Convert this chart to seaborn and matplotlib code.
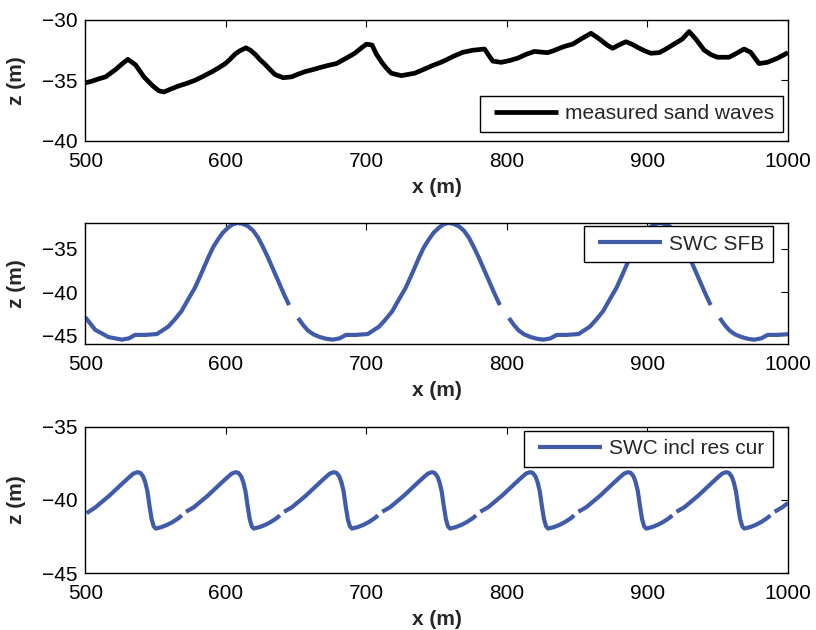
import numpy as np
import pandas as pd
import matplotlib
matplotlib.use("Agg")
import matplotlib.pyplot as plt
import seaborn as sns
from matplotlib.lines import Line2D
from matplotlib.legend_handler import HandlerLine2D

nan = np.nan

# ---------------------------------------------------------------- data
# measured bed profile
measured_x = [500, 505, 510, 514.5, 521.5, 526, 530.3, 535.7, 541.7, 547.6, 552.3, 556,
              561, 566.5, 572, 578.4, 584, 590.2, 595, 599.7, 603, 606.8, 610, 614.3,
              617.5, 621, 624.5, 627.8, 631.5, 634.9, 640.8, 646.8, 651, 656.3, 662,
              668.1, 673, 678.8, 685, 691.8, 696, 700.1, 704.1, 707, 710.7, 714, 717.8,
              724.9, 734.4, 741.5, 747.4, 752, 756.9, 762, 768.7, 775.8, 780, 784.1, 787,
              790, 796, 802, 807.8, 813.7, 819.6, 824, 829, 833, 837.4, 842, 846.8, 852.8,
              859.9, 865.8, 871.7, 875.2, 880, 884.7, 889, 893, 898, 902.5, 908.4, 912.5,
              916.7, 921, 924.9, 929.7, 934.4, 940.3, 945, 949.8, 958.1, 963.5, 968.8,
              973.5, 979.4, 985.3, 992.4, 1000]
measured_z = [-35.2, -35.05, -34.85, -34.7, -34.1, -33.65, -33.25, -33.7, -34.7, -35.4, -35.85, -35.95,
              -35.7, -35.45, -35.25, -34.97, -34.65, -34.27, -33.95, -33.6, -33.25, -32.8, -32.55, -32.3,
              -32.5, -32.85, -33.3, -33.65, -34.1, -34.5, -34.77, -34.7, -34.5, -34.27, -34.1,
              -33.9, -33.75, -33.6, -33.2, -32.75, -32.35, -32.0, -32.07, -32.8, -33.45, -33.95, -34.4,
              -34.6, -34.4, -34.05, -33.75, -33.55, -33.3, -33.0, -32.67, -32.5, -32.45, -32.4, -32.9,
              -33.4, -33.5, -33.35, -33.15, -32.84, -32.6, -32.65, -32.7, -32.55, -32.34, -32.15, -32.0, -31.57,
              -31.1, -31.57, -32.1, -32.34, -32.05, -31.8, -32.0, -32.26, -32.55, -32.75, -32.7, -32.45,
              -32.15, -31.85, -31.57, -30.96, -31.57, -32.48, -32.85, -33.08, -33.08, -32.75, -32.4,
              -32.67, -33.6, -33.5, -33.17, -32.7]

# SWC SFB (NaN marks a break in the curve)
sfb_x = [500, 507, 516.5,
         526, 531, 535.5, 542.5, 551, 559, 563.5, 568.5, 573, 578, 583, 587.5, 591, 594.5,
         598, 602, 605, 608.5, 612, 616, 619.5, 623, 626.5, 630, 633.5, 637, 641, 645, 648,
         651.5, 655, 658.5, 662.5, 667, 671.5,
         676, 681, 685.5, 692.5, 701, 709, 713.5, 718.5, 723, 728, 733, 737.5, 741, 744.5,
         748, 752, 755, 758.5, 762, 766, 769.5, 773, 776.5, 780, 783.5, 787, 791, 795, 798,
         801.5, 805, 808.5, 812.5, 817, 821.5,
         826, 831, 835.5, 842.5, 851, 859, 863.5, 868.5, 873, 878, 883, 887.5, 891, 894.5,
         898, 902, 905, 908.5, 912, 916, 919.5, 923, 926.5, 930, 933.5, 937, 941, 945, 948,
         951.5, 955, 958.5, 962.5, 967, 971.5,
         976, 981, 985.5, 992.5, 1000]
sfb_z = [-42.9, -44.35, -45.2,
         -45.5, -45.35, -44.95, -44.95, -44.85, -44.0, -43.2, -42.2, -40.9, -39.5, -37.7, -36.0, -34.8, -33.9,
         -33.1, -32.5, -32.15, -32.0, -32.1, -32.4, -32.9, -33.7, -34.8, -36.0, -37.3, -38.6, -40.1, -41.5, nan,
         -43.0, -43.8, -44.45, -44.9, -45.2, -45.4,
         -45.5, -45.35, -44.95, -44.95, -44.85, -44.0, -43.2, -42.2, -40.9, -39.5, -37.7, -36.0, -34.8, -33.9,
         -33.1, -32.5, -32.15, -32.0, -32.1, -32.4, -32.9, -33.7, -34.8, -36.0, -37.3, -38.6, -40.1, -41.5, nan,
         -43.0, -43.8, -44.45, -44.9, -45.2, -45.4,
         -45.5, -45.35, -44.95, -44.95, -44.85, -44.0, -43.2, -42.2, -40.9, -39.5, -37.7, -36.0, -34.8, -33.9,
         -33.1, -32.5, -32.15, -32.0, -32.1, -32.4, -32.9, -33.7, -34.8, -36.0, -37.3, -38.6, -40.1, -41.5, nan,
         -43.0, -43.8, -44.45, -44.9, -45.2, -45.4,
         -45.5, -45.35, -44.95, -44.95, -44.87]

# SWC including residual current (NaN marks a break in the curve)
rescur_x = [501, 507.2, 512.2, 517.2, 522.2, 527.2, 531.2, 534.2,
            537.2, 539.2, 541.2, 542.7, 544.2, 545.7, 547.2, 548.7, 550.2, 554.2, 558.2, 562.2,
            566.2, 568.7, 570.2, 571.7, 577.2, 582.2, 587.2, 592.2, 597.2, 601.2, 604.2,
            607.0, 609.0, 611.0, 612.5, 614.0, 615.5, 617.0, 618.5, 620.0, 624.0, 628.0, 632.0,
            636.0, 638.5, 640.0, 641.5, 647.0, 652.0, 657.0, 662.0, 667.0, 671.0, 674.0,
            676.8, 678.8, 680.8, 682.3, 683.8, 685.3, 686.8, 688.3, 689.8, 693.8, 697.8, 701.8,
            705.8, 708.3, 709.8, 711.3, 716.8, 721.8, 726.8, 731.8, 736.8, 740.8, 743.8,
            746.6, 748.6, 750.6, 752.1, 753.6, 755.1, 756.6, 758.1, 759.6, 763.6, 767.6, 771.6,
            775.6, 778.1, 779.6, 781.1, 786.6, 791.6, 796.6, 801.6, 806.6, 810.6, 813.6,
            816.4, 818.4, 820.4, 821.9, 823.4, 824.9, 826.4, 827.9, 829.4, 833.4, 837.4, 841.4,
            845.4, 847.9, 849.4, 850.9, 856.4, 861.4, 866.4, 871.4, 876.4, 880.4, 883.4,
            886.2, 888.2, 890.2, 891.7, 893.2, 894.7, 896.2, 897.7, 899.2, 903.2, 907.2, 911.2,
            915.2, 917.7, 919.2, 920.7, 926.2, 931.2, 936.2, 941.2, 946.2, 950.2, 953.2,
            956.0, 958.0, 960.0, 961.5, 963.0, 964.5, 966.0, 967.5, 969.0, 973.0, 977.0, 981.0,
            985.0, 987.5, 989.0, 990.5, 996.0, 1000.0]
rescur_z = [-40.9, -40.5, -40.1, -39.7, -39.25, -38.8, -38.45, -38.2,
            -38.1, -38.15, -38.4, -38.8, -39.4, -40.4, -41.3, -41.8, -41.95, -41.85, -41.7, -41.5,
            -41.25, -41.05, nan, -40.8, -40.5, -40.1, -39.7, -39.25, -38.8, -38.45, -38.2,
            -38.1, -38.15, -38.4, -38.8, -39.4, -40.4, -41.3, -41.8, -41.95, -41.85, -41.7, -41.5,
            -41.25, -41.05, nan, -40.8, -40.5, -40.1, -39.7, -39.25, -38.8, -38.45, -38.2,
            -38.1, -38.15, -38.4, -38.8, -39.4, -40.4, -41.3, -41.8, -41.95, -41.85, -41.7, -41.5,
            -41.25, -41.05, nan, -40.8, -40.5, -40.1, -39.7, -39.25, -38.8, -38.45, -38.2,
            -38.1, -38.15, -38.4, -38.8, -39.4, -40.4, -41.3, -41.8, -41.95, -41.85, -41.7, -41.5,
            -41.25, -41.05, nan, -40.8, -40.5, -40.1, -39.7, -39.25, -38.8, -38.45, -38.2,
            -38.1, -38.15, -38.4, -38.8, -39.4, -40.4, -41.3, -41.8, -41.95, -41.85, -41.7, -41.5,
            -41.25, -41.05, nan, -40.8, -40.5, -40.1, -39.7, -39.25, -38.8, -38.45, -38.2,
            -38.1, -38.15, -38.4, -38.8, -39.4, -40.4, -41.3, -41.8, -41.95, -41.85, -41.7, -41.5,
            -41.25, -41.05, nan, -40.8, -40.5, -40.1, -39.7, -39.25, -38.8, -38.45, -38.2,
            -38.1, -38.15, -38.4, -38.8, -39.4, -40.4, -41.3, -41.8, -41.95, -41.85, -41.7, -41.5,
            -41.25, -41.05, nan, -40.8, -40.5, -40.2]

series_labels = ["measured sand waves", "SWC SFB", "SWC incl res cur"]
x_ticks = [500, 600, 700, 800, 900, 1000]
y_ticks = [[-40, -35, -30], [-45, -40, -35], [-45, -40, -35]]
y_limits = [(-40, -30), (-46, -32), (-45, -35)]

# ---------------------------------------------------------------- style
sns.set_theme(style="white")
plt.rcParams["font.family"] = ["Liberation Sans", "DejaVu Sans"]
plt.rcParams["axes.edgecolor"] = "black"
plt.rcParams["axes.linewidth"] = 1.0

BLUE = "#3F5BAA"
FS = 15

fig = plt.figure(figsize=(8.16, 6.30), dpi=100)
axes = [
    fig.add_axes([0.1045, 0.7762, 0.8611, 0.1921]),
    fig.add_axes([0.1045, 0.4540, 0.8611, 0.1921]),
    fig.add_axes([0.1045, 0.0900, 0.8611, 0.2327]),
]

panels = [
    (measured_x, measured_z, "black", 3.4, "lower right", (0.993, 0.074)),
    (sfb_x, sfb_z, BLUE, 3.0, "upper right", (0.979, 0.975)),
    (rescur_x, rescur_z, BLUE, 3.0, "upper right", (0.979, 0.973)),
]

for i, (ax, (xs, zs, color, lw, loc, anchor)) in enumerate(zip(axes, panels)):
    df = pd.DataFrame({"x": xs, "z": zs})
    df["segment"] = df["z"].isna().cumsum()
    df = df.dropna()
    sns.lineplot(data=df, x="x", y="z", units="segment", estimator=None, sort=False,
                 color=color, lw=lw, solid_capstyle="butt", solid_joinstyle="round",
                 legend=False, ax=ax)

    ax.set_xlim(500, 1000)
    ax.set_ylim(*y_limits[i])
    ax.set_xticks(x_ticks)
    ax.set_yticks(y_ticks[i])
    ax.tick_params(direction="in", top=True, right=True, length=5, width=0.8,
                   labelsize=FS, colors="black")
    ax.tick_params(axis="x", pad=8)
    ax.tick_params(axis="y", pad=5.5)
    for sp in ax.spines.values():
        sp.set_visible(True)
        sp.set_color("black")
        sp.set_linewidth(1.0)

    ax.set_xlabel("x (m)", fontsize=FS, fontweight="bold", labelpad=5)
    ax.set_ylabel("z (m)", fontsize=FS, fontweight="bold")
    ax.yaxis.set_label_coords(-0.084, 0.5)

    handle = Line2D([], [], color=color, lw=lw, solid_capstyle="butt")
    leg = ax.legend([handle], [series_labels[i]], loc=loc, bbox_to_anchor=anchor,
                    borderaxespad=0, frameon=True, fancybox=False, framealpha=1,
                    edgecolor="black", fontsize=FS, handlelength=3.3,
                    handletextpad=0.36, borderpad=0.42,
                    handler_map={Line2D: HandlerLine2D(xpad=0.25)})
    leg.get_frame().set_linewidth(1.0)

fig.savefig("out.png", dpi=100)
